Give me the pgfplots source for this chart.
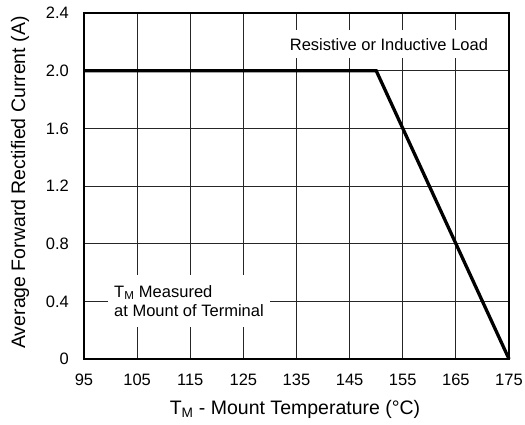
\documentclass[border=0pt]{standalone}
\usepackage{fontspec}
\setmainfont{Liberation Sans}
\usepackage{pgfplots}
\pgfplotsset{compat=1.18}
\begin{document}
\fontsize{16.5bp}{19.8bp}\selectfont
\begin{tikzpicture}
  \begin{axis}[
      scale only axis,
      width=425bp,
      height=346bp,
      xmin=95, xmax=175,
      ymin=0, ymax=2.4,
      xtick={95,105,...,175},
      ytick={0,0.4,...,2.4},
      yticklabels={0,0.4,0.8,1.2,1.6,2.0,2.4},
      /pgf/number format/assume math mode=true,
      major tick length=0pt,
      grid=major,
      grid style={black!85, line width=1pt},
      axis line style={line width=2.2pt},
      tick label style={font=\fontsize{16.5bp}{19.8bp}\selectfont},
      xticklabel style={anchor=north, yshift=-9.5bp},
      yticklabel style={anchor=east, xshift=-9.5bp},
      xlabel={T\textsubscript{M} - Mount Temperature (°C)},
      ylabel={Average Forward Rectified Current (A)},
      label style={font=\fontsize{19.5bp}{23bp}\selectfont},
      xlabel style={at={(axis description cs:0.4965,-0.159)}, anchor=base},
      ylabel style={at={(axis description cs:-0.1388,0.51)}, anchor=base, rotate=0},
      clip=false,
    ]
    \addplot[black, line width=3.3pt, line join=miter] coordinates {
      (95, 2.0)
      (150, 2.0)
      (175, 0)
    };
    \node[fill=white, inner xsep=5bp, inner ysep=8bp, anchor=base] at (axis cs:152.4,2.143)
      {Resistive or Inductive Load};
    \node[fill=white, align=left, inner xsep=6bp, inner ysep=10bp, anchor=north west,
      font=\fontsize{16.5bp}{19.5bp}\selectfont] at (axis cs:99.52,0.5827)
      {T\textsubscript{M} Measured\\at Mount of Terminal};
    \coordinate (ll) at (rel axis cs:0,0);
    \coordinate (ur) at (rel axis cs:1,1);
  \end{axis}
  \pgfresetboundingbox
  \path ([shift={(-84bp,-65bp)}]ll) rectangle ([shift={(16bp,13bp)}]ur);
\end{tikzpicture}
\end{document}
